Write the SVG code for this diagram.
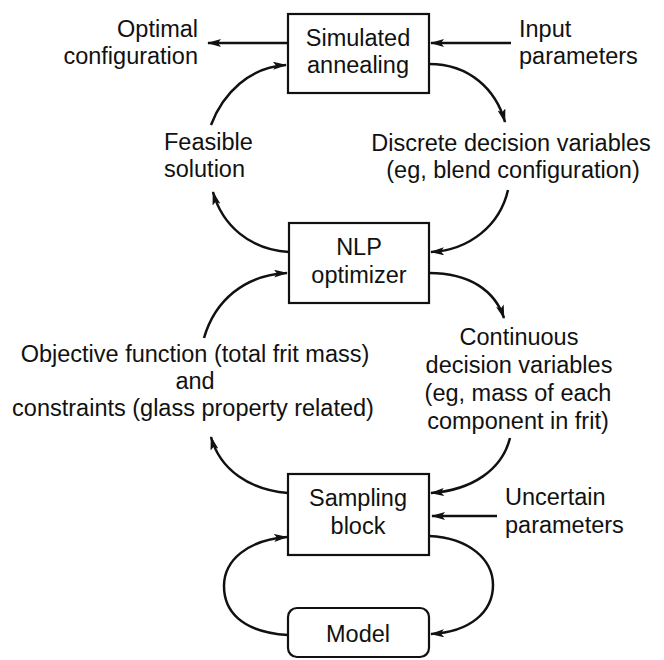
<svg xmlns="http://www.w3.org/2000/svg" width="664" height="660" viewBox="0 0 664 660">
<style>
text{font-family:"Liberation Sans","DejaVu Sans",sans-serif;font-size:23.5px;fill:#111}
.box{fill:#fff;stroke:#111;stroke-width:2.2}
.c{text-anchor:middle}
.e{text-anchor:end}
.ln{fill:none;stroke:#111;stroke-width:2.5;marker-end:url(#ah)}
</style>
<defs>
<marker id="ah" viewBox="0 0 14 8" refX="13" refY="4" markerWidth="14" markerHeight="8" markerUnits="userSpaceOnUse" orient="auto">
<path d="M0,0 L14,4 L0,8 L3,4 Z" fill="#111"/>
</marker>
</defs>
<rect width="664" height="660" fill="#fff"/>
<g id="connectors">
<path class="ln" d="M288,43 L208,43"/>
<path class="ln" d="M511,43 L431,43"/>
<path class="ln" d="M211,125 C223,93 250,67 286,65"/>
<path class="ln" d="M429,64 C470,64 496,90 505,122"/>
<path class="ln" d="M508,190 C500,225 470,250 431,252"/>
<path class="ln" d="M289,252 C250,250 222,225 213,192"/>
<path class="ln" d="M429,273 C470,273 495,291 504,318"/>
<path class="ln" d="M204,338 C215,300 245,275 287,273"/>
<path class="ln" d="M510,438 C502,470 472,490 431,493"/>
<path class="ln" d="M288,493 C250,490 220,470 211,437"/>
<path class="ln" d="M497,516 L432,516"/>
<path class="ln" d="M288,635 C240,632 224,610 224,586 C224,560 248,540 287,537"/>
<path class="ln" d="M429,536 C470,538 493,560 493,585 C493,612 470,632 431,634"/>
</g>
<g id="optimal-configuration">
<text class="e" x="198" y="37">Optimal</text>
<text class="e" x="198" y="64">configuration</text>
</g>
<g id="input-parameters">
<text x="519" y="37">Input</text>
<text x="519" y="64">parameters</text>
</g>
<g id="simulated-annealing">
<rect class="box" x="288" y="14" width="141" height="79"/>
<text class="c" x="358" y="46">Simulated</text>
<text class="c" x="358" y="73">annealing</text>
</g>
<g id="feasible-solution">
<text x="164" y="150">Feasible</text>
<text x="164" y="177">solution</text>
</g>
<g id="discrete-decision">
<text class="c" x="511" y="151">Discrete decision variables</text>
<text class="c" x="513" y="178">(eg, blend configuration)</text>
</g>
<g id="nlp-optimizer">
<rect class="box" x="289" y="223" width="140" height="80"/>
<text class="c" x="359" y="255">NLP</text>
<text class="c" x="359" y="283">optimizer</text>
</g>
<g id="objective-constraints">
<text class="c" x="195" y="362">Objective function (total frit mass)</text>
<text class="c" x="195" y="389">and</text>
<text class="c" x="193" y="416">constraints (glass property related)</text>
</g>
<g id="continuous-decision">
<text class="c" x="519" y="345">Continuous</text>
<text class="c" x="519" y="373">decision variables</text>
<text class="c" x="518" y="401">(eg, mass of each</text>
<text class="c" x="518" y="429">component in frit)</text>
</g>
<g id="sampling-block">
<rect class="box" x="288" y="474" width="141" height="81"/>
<text class="c" x="358" y="506">Sampling</text>
<text class="c" x="358" y="534">block</text>
</g>
<g id="uncertain-parameters">
<text x="505" y="505">Uncertain</text>
<text x="505" y="533">parameters</text>
</g>
<g id="model">
<rect class="box" x="288" y="608" width="141" height="49" rx="9"/>
<text class="c" x="358" y="642">Model</text>
</g>
</svg>
